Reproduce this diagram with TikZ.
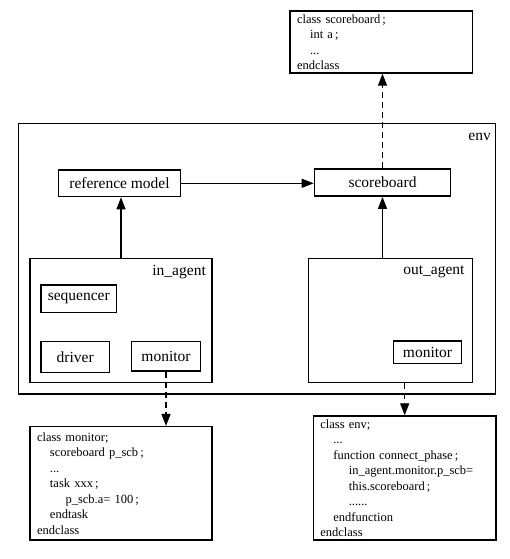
\documentclass[tikz,border=0pt]{standalone}
\usepackage{fontspec}
\setmainfont{Liberation Serif}
\usetikzlibrary{arrows.meta}
\tikzset{
  box/.style={draw, line width=1.4pt, inner sep=0pt, font=\fontsize{15.5}{18}\selectfont},
  codebox/.style={draw, line width=1.4pt, inner xsep=7pt, inner ysep=0pt, align=left,
    font=\fontsize{12.5}{15.5}\selectfont},
  lbl/.style={font=\fontsize{15.5}{18}\selectfont, inner sep=0pt},
  arr/.style={line width=1.3pt, -{Triangle[length=12pt,width=9pt]}},
  darr/.style={line width=1.3pt, dash pattern=on 6pt off 4pt, -{Triangle[length=12pt,width=9pt]}}
}
\newcommand{\ia}{\hspace*{13pt}}
\newcommand{\ib}{\hspace*{28.5pt}}
\begin{document}
\begin{tikzpicture}[x=1pt,y=-1pt]
\useasboundingbox (0,0) rectangle (510,559);
% env container
\node[box, minimum width=477pt, minimum height=270.7pt] (env) at (257.2,258.7) {};
\node[lbl, anchor=east] (envlbl) at (491,137) {env};
% inner boxes
\node[box, minimum width=121.6pt, minimum height=26.7pt] (refm) at (119.5,183.3) {reference model};
\node[box, minimum width=136.3pt, minimum height=27.3pt] (scb) at (382.5,182.5) {scoreboard};
\node[box, minimum width=182pt, minimum height=124pt] (inag) at (121,320.3) {};
\node[lbl, anchor=east] (inlbl) at (206,272) {in\_agent};
\node[box, minimum width=75.7pt, minimum height=27.3pt] (seq) at (78.8,298.7) {sequencer};
\node[box, minimum width=68.3pt, minimum height=30.6pt] (drv) at (75.2,357) {driver};
\node[box, minimum width=68.6pt, minimum height=29.3pt] (mon1) at (166,356.3) {monitor};
\node[box, minimum width=164.4pt, minimum height=124pt] (outag) at (390.5,320.3) {};
\node[lbl, anchor=east] (outlbl) at (464.7,272) {out\_agent};
\node[box, minimum width=68.4pt, minimum height=22.7pt] (mon2) at (427.5,352.3) {monitor};
% code boxes
\node[codebox, text width=168.7pt, minimum height=62pt] (topcls) at (381.4,42) {%
class scoreboard\,;\\
\ia int a\,;\\
\ia ...\\
endclass};
\node[codebox, text width=168pt, minimum height=113.3pt] (moncls) at (121,483.3) {%
class monitor;\\
\ia scoreboard p\_scb\,;\\
\ia ...\\
\ia task xxx\,;\\
\ib p\_scb.a= 100\,;\\
\ia endtask\\
endclass};
\node[codebox, text width=168.7pt, minimum height=124pt] (envcls) at (404.7,478) {%
class env;\\
\ia ...\\
\ia function connect\_phase\,;\\
\ib in\_agent.monitor.p\_scb=\\
\ib this.scoreboard\,;\\
\ib ......\\
\ia endfunction\\
endclass};
% connectors
\draw[arr] (refm.east) -- (refm.east -| scb.west);
\draw[arr] (inag.north) -- (inag.north |- refm.south);
\draw[arr] (scb.south |- outag.north) -- (scb.south);
\draw[darr] (scb.north) -- (scb.north |- topcls.south);
\draw[darr] (mon1.south) -- (mon1.south |- moncls.north);
\draw[darr] (envcls.north |- outag.south) -- (envcls.north);
\end{tikzpicture}
\end{document}
